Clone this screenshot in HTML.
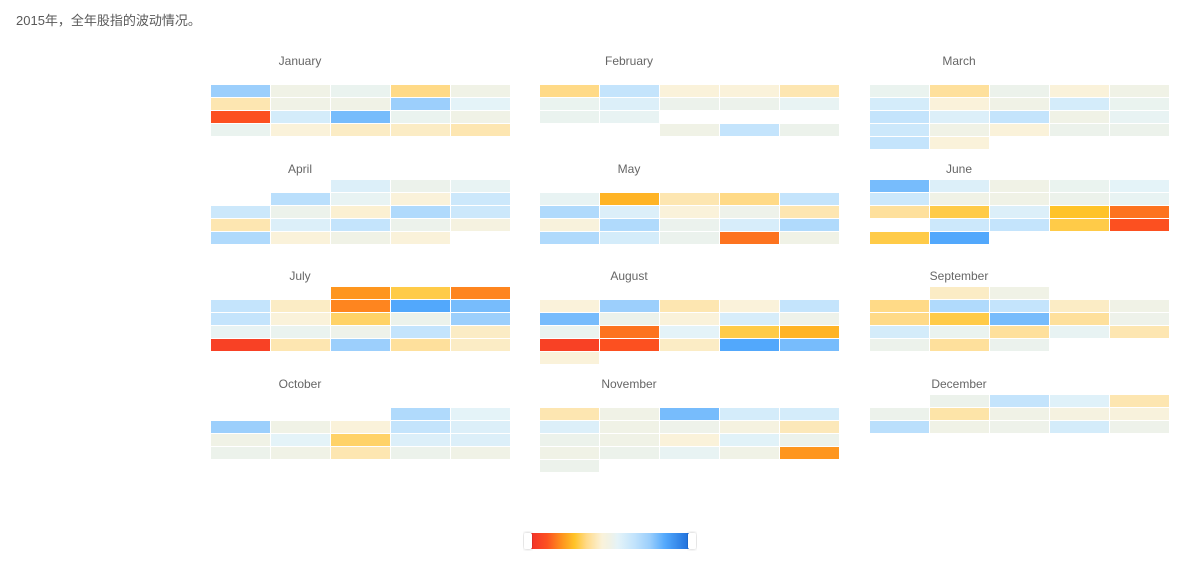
<!DOCTYPE html>
<html><head><meta charset="utf-8">
<style>
html,body{margin:0;padding:0;background:#fff;width:1201px;height:571px;overflow:hidden;}
#title{position:absolute;left:16px;top:10px;font:13px "Liberation Sans","Noto Sans CJK SC",sans-serif;color:#595959;}
svg{position:absolute;left:0;top:0;}
</style></head><body>
<div id="title">2015年，全年股指的波动情况。</div>
<svg id="chart" width="1201" height="571"></svg>
<script>
const months = ["January","February","March","April","May","June","July","August","September","October","November","December"];
const _ = null;
const jan = [[_,_,_,_,_],[5,0,0.5,-3,0],[-2,0,0,5,1],[-8,2,6,0.5,0],[0.5,-1,-1.5,-1.5,-2]];
const feb = [[_,_,_,_,_],[-3,3,-1,-1,-2],[0.5,1.5,0.3,0.3,0.7],[0.5,0.7,_,_,_],[_,_,0,3,0.3]];
const mar = [[_,_,_,_,_],[0.5,-2.5,0.3,-1,0],[2,-1,0,2,0.5],[3,1.5,3,0,0.7],[2.5,0,-1,0.3,0.3],[3,-1,_,_,_]];
const apr = [[_,_,1.5,0.3,0.7],[_,3.5,0.7,-1,2.5],[2.5,0.3,-1.2,4,2.5],[-2,1.5,3,0.3,-0.5],[4,-1,0,-1,_]];
const may = [[_,_,_,_,_],[0.7,-5,-2,-3,3],[4,1.5,-1,0.2,-2],[-0.8,4,0.4,1.8,4],[4,2,0.4,-7,0]];
const jun = [[6,1.5,0,0.5,1],[2.5,0,0,0.3,0.7],[-2.5,-4,1.5,-4.5,-7],[_,2.5,3,-4,-8],[-4,7,_,_,_]];
const jul = [[_,_,-6,-4,-6.5],[3,-1.5,-6.5,7,6],[3,-1,-3.5,0.3,5],[0.7,0.5,0.2,3,-1.5],[-9,-2,5,-2.5,-1.5]];
const aug = [[_,_,_,_,_],[-1,5,-2,-1,3],[6,0.3,-1,1.8,0.2],[0.5,-7,1,-4,-5],[-9,-8,-1.5,7,6],[-1,_,_,_,_]];
const sep = [[_,-1.5,0,_,_],[-3,4,3,-1.5,0],[-3,-4,6,-2.5,0.2],[2,0.5,-2.5,0.7,-2],[0.3,-2.5,0.4,_,_]];
const oct = [[_,_,_,_,_],[_,_,_,4,1],[5,0,-1,3,1.5],[0,1,-3.5,1.5,1.5],[0.3,0,-2,0.3,0]];
const nov = [[_,_,_,_,_],[-2,0,6,2,2],[1.5,0,0.2,-0.5,-1.8],[0.3,0,-1,1.2,0.3],[0,0.3,0.7,0,-6],[0.3,_,_,_,_]];
const dec = [[_,0.3,3,1.3,-2],[0.3,-2.2,0,-0.5,-0.8],[3.5,0,0.2,2,0.2]];
const grids = [jan,feb,mar,apr,may,jun,jul,aug,sep,oct,nov,dec];

const stops=[[-10,[243,50,42]],[-8,[252,80,32]],[-6,[254,150,30]],[-4.5,[255,195,40]],[-3,[255,218,135]],[-1,[250,242,218]],[0,[240,242,230]],[1,[228,243,248]],[3,[196,228,252]],[5,[156,207,252]],[7,[82,168,252]],[10,[30,111,219]]];
function color(v){
  if(v<=stops[0][0]) return 'rgb('+stops[0][1]+')';
  for(let i=1;i<stops.length;i++){
    if(v<=stops[i][0]){
      const a=stops[i-1],b=stops[i],t=(v-a[0])/(b[0]-a[0]);
      return 'rgb('+a[1].map((c,k)=>Math.round(c+(b[1][k]-c)*t)).join(',')+')';
    }
  }
  return 'rgb('+stops[stops.length-1][1]+')';
}
const NS='http://www.w3.org/2000/svg';
const svg=document.getElementById('chart');
const blockX=[211,540,870], titleY=[61,169,276,384];
const cw=60, ch=13;
function xPos(m,c){return blockX[m%3]+c*cw;}
function yPos(m,r){return titleY[Math.floor(m/3)]+11+r*ch;}
grids.forEach((g,m)=>{
  const t=document.createElementNS(NS,'text');
  
  
  t.setAttribute('x',blockX[m%3]+89);t.setAttribute('y',titleY[Math.floor(m/3)]+4);
  t.setAttribute('text-anchor','middle');t.setAttribute('font-size','12');
  t.setAttribute('font-family','Liberation Sans, sans-serif');t.setAttribute('fill','#666');
  t.textContent=months[m];svg.appendChild(t);
  g.forEach((row,r)=>row.forEach((v,c)=>{
    if(v===null) return;
    const rc=document.createElementNS(NS,'rect');
    
    
    rc.setAttribute('x',xPos(m,c));rc.setAttribute('y',yPos(m,r));
    rc.setAttribute('width',cw-1);rc.setAttribute('height',ch-1);
    rc.setAttribute('fill',color(v));svg.appendChild(rc);
  }));
});
const defs=document.createElementNS(NS,'defs');
const lg=document.createElementNS(NS,'linearGradient');lg.setAttribute('id','lg');
stops.forEach(s=>{const st=document.createElementNS(NS,'stop');st.setAttribute('offset',((s[0]+10)/20*100)+'%');st.setAttribute('stop-color','rgb('+s[1]+')');lg.appendChild(st);});
defs.appendChild(lg);
const f=document.createElementNS(NS,'filter');f.setAttribute('id','sh');f.innerHTML='<feDropShadow dx="0" dy="0" stdDeviation="1.5" flood-color="#000" flood-opacity="0.25"/>';
defs.appendChild(f);svg.appendChild(defs);
const leg=document.createElementNS(NS,'rect');


leg.setAttribute('x',531);leg.setAttribute('y',533);leg.setAttribute('width',158);leg.setAttribute('height',16);leg.setAttribute('fill','url(#lg)');svg.appendChild(leg);
[524,688].forEach((x,i)=>{
  const h=document.createElementNS(NS,'rect');
  
  
  h.setAttribute('x',x);h.setAttribute('y',533);h.setAttribute('width',8);h.setAttribute('height',16);h.setAttribute('rx',2);
  h.setAttribute('fill','#fff');h.setAttribute('filter','url(#sh)');svg.appendChild(h);
});
</script>
</body></html>
